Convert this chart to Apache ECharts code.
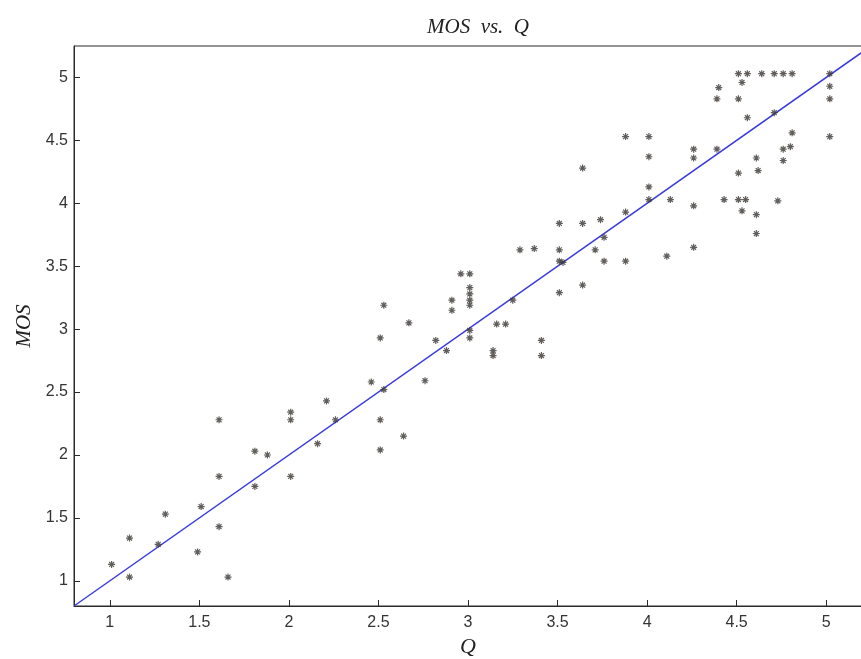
<!DOCTYPE html>
<html>
<head>
<meta charset="utf-8">
<title>MOS vs. Q</title>
<script src="https://cdn.jsdelivr.net/npm/echarts@6/dist/echarts.min.js"></script>
<style>
  html, body { margin: 0; padding: 0; background: #fff; }
  #chart { width: 861px; height: 659px; }
</style>
</head>
<body>
<div id="chart"></div>
<script>
// Q values (x) of the subjective test points
var qValues = [
  1.61, 2.01, 2.01, 2.16, 1.81, 1.88, 1.61, 2.01, 1.81, 1.31,
  1.51, 1.61, 1.11, 1.27, 1.49, 1.01, 1.11, 1.66, 2.21, 2.26,
  2.96, 3.01, 3.01, 3.01, 3.01, 3.01, 2.91, 2.91, 2.53, 2.67,
  2.51, 2.82, 3.01, 3.01, 2.88, 3.16, 3.21, 3.14, 3.14, 3.41,
  3.41, 3.25, 3.51, 3.64, 3.51, 3.53, 2.46, 2.53, 2.76, 2.51,
  2.64, 2.51, 3.51, 3.64, 3.29, 3.37, 3.51,
  4.51, 4.56, 4.64, 4.71, 4.76, 4.81, 5.02, 4.53, 5.02, 4.40,
  4.39, 4.51, 5.02, 4.71, 4.56, 4.81, 5.02, 3.88, 4.01, 4.26,
  4.39, 4.76, 4.80, 4.01, 4.26, 4.61, 4.76, 3.64, 4.62, 4.51,
  4.01, 4.01, 4.13, 4.43, 4.26, 4.51, 4.55, 4.73, 4.53, 4.61,
  4.61, 3.88, 3.74, 3.76, 3.71, 3.76, 3.88, 4.11, 4.26
];
// MOS values (y) matching qValues
var mosValues = [
  2.28, 2.34, 2.28, 2.09, 2.03, 2.00, 1.83, 1.83, 1.75, 1.53,
  1.59, 1.43, 1.34, 1.29, 1.23, 1.13, 1.03, 1.03, 2.43, 2.28,
  3.44, 3.44, 3.33, 3.28, 3.23, 3.19, 3.23, 3.15, 3.19, 3.05,
  2.93, 2.91, 2.99, 2.93, 2.83, 3.04, 3.04, 2.83, 2.79, 2.91,
  2.79, 3.23, 3.29, 3.35, 3.54, 3.53, 2.58, 2.52, 2.59, 2.28,
  2.15, 2.04, 3.84, 3.84, 3.63, 3.64, 3.63,
  5.03, 5.03, 5.03, 5.03, 5.03, 5.03, 5.03, 4.96, 4.93, 4.92,
  4.83, 4.83, 4.83, 4.72, 4.68, 4.56, 4.53, 4.53, 4.53, 4.43,
  4.43, 4.43, 4.45, 4.37, 4.36, 4.36, 4.34, 4.28, 4.26, 4.24,
  4.13, 4.03, 4.03, 4.03, 3.98, 4.03, 4.03, 4.02, 3.94, 3.91,
  3.76, 3.93, 3.87, 3.73, 3.63, 3.54, 3.54, 3.58, 3.65
];
// fitted line end points
var fitQ = [0.8, 5.2];
var fitMos = [0.8, 5.2];
// tick labels
var xTicks = [1, 1.5, 2, 2.5, 3, 3.5, 4, 4.5, 5];
var yTicks = [1, 1.5, 2, 2.5, 3, 3.5, 4, 4.5, 5];

var chart = echarts.init(document.getElementById('chart'));

var points = qValues.map(function (q, i) { return [q, mosValues[i]]; });
var fitLine = fitQ.map(function (q, i) { return [q, fitMos[i]]; });

var axisColor = '#2b2b2b';
var asterisk = 'path://M5,0L5,10M0,5L10,5M1.5,1.5L8.5,8.5M1.5,8.5L8.5,1.5';

chart.setOption({
  animation: false,
  backgroundColor: '#fff',
  title: {
    text: 'MOS  vs.  Q',
    left: 473,
    textAlign: 'center',
    top: 12,
    textStyle: {
      fontFamily: 'Liberation Serif',
      fontStyle: 'italic',
      fontWeight: 'normal',
      fontSize: 21,
      color: '#222'
    }
  },
  grid: {
    left: 74,
    right: -1,
    top: 46,
    bottom: 53,
    outerBoundsMode: 'none',
    containLabel: false,
    show: true,
    borderColor: axisColor,
    borderWidth: 1
  },
  xAxis: {
    type: 'value',
    min: 0.8,
    max: 5.2,
    name: 'Q',
    nameLocation: 'middle',
    nameGap: 30,
    nameTextStyle: {
      fontFamily: 'Liberation Serif',
      fontStyle: 'italic',
      fontSize: 22,
      color: '#222'
    },
    splitLine: { show: false },
    axisLine: { show: true, onZero: false, lineStyle: { color: axisColor, width: 1 } },
    axisTick: { show: true, inside: true, length: 6, customValues: xTicks, lineStyle: { color: axisColor } },
    axisLabel: {
      customValues: xTicks,
      margin: 9,
      fontFamily: 'Liberation Sans',
      fontSize: 16,
      color: '#333'
    }
  },
  yAxis: {
    type: 'value',
    min: 0.8,
    max: 5.25,
    name: 'MOS',
    nameLocation: 'middle',
    nameRotate: 90,
    nameGap: 38,
    nameTextStyle: {
      fontFamily: 'Liberation Serif',
      fontStyle: 'italic',
      fontSize: 21,
      color: '#222'
    },
    splitLine: { show: false },
    axisLine: { show: true, onZero: false, lineStyle: { color: axisColor, width: 1 } },
    axisTick: { show: true, inside: true, length: 6, customValues: yTicks, lineStyle: { color: axisColor } },
    axisLabel: {
      customValues: yTicks,
      margin: 6,
      fontFamily: 'Liberation Sans',
      fontSize: 16,
      color: '#333'
    }
  },
  series: [
    {
      name: 'fit',
      type: 'line',
      data: fitLine,
      symbol: 'none',
      lineStyle: { color: '#3b3bdc', width: 1.5 },
      z: 2
    },
    {
      name: 'MOS',
      type: 'scatter',
      data: points,
      symbol: asterisk,
      symbolSize: 7,
      itemStyle: { color: 'none', borderColor: '#3a3632', borderWidth: 1.2 },
      z: 3
    }
  ]
});
</script>
</body>
</html>
